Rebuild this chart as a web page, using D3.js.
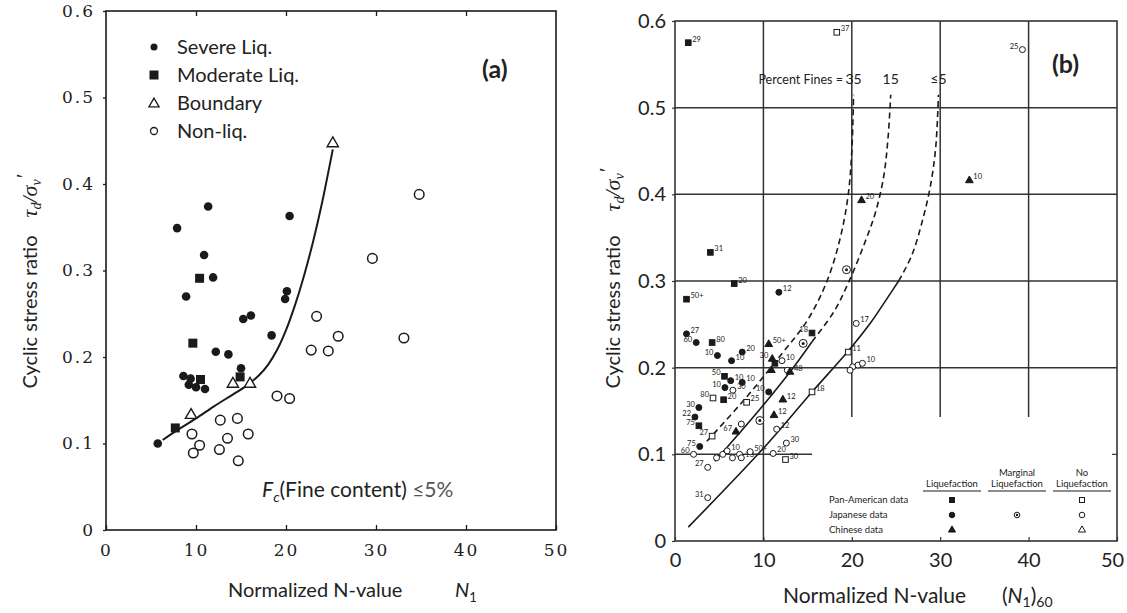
<!DOCTYPE html>
<html>
<head>
<meta charset="utf-8">
<script src="https://cdn.jsdelivr.net/npm/d3@7"></script>
<style>
body { margin: 0; background: #fff; }
text { fill: #222; }
</style>
</head>
<body>
<svg id="svg0" width="1127" height="613"></svg>
<script>
// ---------- panel (a) data : [N1, CSR] ----------
var severeLiq = [[7.9,0.349],[11.35,0.374],[10.9,0.318],[11.9,0.292],[20.4,0.363],[8.9,0.27],
  [20.1,0.276],[19.9,0.267],[15.25,0.244],[16.1,0.248],[18.4,0.225],[12.2,0.206],[13.6,0.203],
  [15,0.187],[8.6,0.178],[9.4,0.175],[9.2,0.168],[10,0.165],[11,0.163],[5.75,0.1]];
var moderateLiq = [[10.4,0.291],[9.65,0.216],[14.9,0.177],[10.5,0.174],[7.7,0.118]];
var boundary = [[9.45,0.134],[14.1,0.17],[16,0.17],[25.2,0.448]];
var nonLiq = [[9.55,0.111],[10.4,0.098],[9.7,0.089],[12.7,0.127],[14.6,0.129],[13.5,0.106],
  [12.6,0.093],[15.8,0.111],[14.7,0.08],[19.0,0.155],[20.4,0.152],[23.4,0.247],[25.8,0.224],
  [22.8,0.208],[24.7,0.207],[33.1,0.222],[34.8,0.388],[29.6,0.314]];
var curveA = [[6.3,0.104],[8,0.116],[10,0.129],[12,0.143],[14,0.156],[15.5,0.166],[17,0.179],
  [18,0.191],[19,0.208],[20,0.231],[21,0.26],[22,0.294],[23,0.333],[24,0.378],[25.2,0.44]];
var legendA = ["Severe Liq.", "Moderate Liq.", "Boundary", "Non-liq."];

// ---------- panel (b) data : [(N1)60, CSR, label, side] ----------
var panAmLiq = [[1.5,0.575,"29"],[4.0,0.333,"31"],[6.7,0.297,"20"],[1.3,0.279,"50+"],[4.2,0.229,"80"],
  [5.6,0.19,"50","L"],[5.5,0.163,"20"],[2.7,0.133,"75","L"],[11.3,0.205,""],[15.5,0.24,"18","L"]];
var panAmNo = [[18.3,0.587,"37"],[4.3,0.165,"80","L"],[8.1,0.16,"25"],[4.2,0.121,"27","L"],
  [15.5,0.172,"18"],[19.6,0.218,"11"],[12.5,0.094,"30"]];
var japLiq = [[11.75,0.287,"12"],[1.3,0.239,"27"],[2.4,0.229,"60","L"],[7.6,0.218,"20"],[4.8,0.214,"10","L"],
  [6.4,0.208,"10"],[6.3,0.185,"10"],[7.6,0.183,"10"],[5.65,0.177,"10","L"],[2.7,0.154,"30","L"],
  [2.26,0.143,"22","L"],[2.8,0.109,"75","L"],[10.6,0.172,"10","L"]];
var japMarg = [[19.4,0.313,""],[14.5,0.228,""],[9.6,0.139,""]];
var japNo = [[39.3,0.567,"25","L"],[6.55,0.174,"30"],[7.5,0.135,""],[2.1,0.10,"60","L"],[12.1,0.208,"10"],
  [12.7,0.197,""],[11.5,0.129,"12"],[12.6,0.113,"30"],[11.1,0.101,"20"],[4.7,0.096,""],[5.4,0.10,""],
  [5.9,0.104,"10"],[6.5,0.096,""],[7.3,0.10,""],[7.5,0.096,"13"],[8.5,0.103,"50+"],[3.7,0.085,"27","L"],
  [3.7,0.05,"31","L"],[20.5,0.251,"17"],[20.1,0.201,""],[20.7,0.203,""],[21.2,0.205,"10"],[19.8,0.197,""]];
var chiLiq = [[33.3,0.416,"10"],[21.1,0.393,"20"],[10.6,0.227,"50+"],[10.9,0.197,""],[11.0,0.21,"30","L"],
  [12.2,0.163,"12"],[11.2,0.145,"12"],[6.9,0.126,"67","L"],[13.0,0.195,"48"]];
var curve35 = [[3.6,0.115],[8,0.165],[12,0.215],[15,0.255],[17.2,0.30],[18.7,0.35],[19.6,0.40],
  [20.0,0.45],[20.2,0.515]];
var curve15Solid = [[4.5,0.092],[9.6,0.152],[13,0.195],[15.5,0.23]];
var curve15Dash = [[15.5,0.23],[18,0.265],[19.7,0.30],[21.5,0.345],[22.7,0.38],[23.6,0.42],[24.1,0.465],[24.4,0.515]];
var curve5Solid = [[1.5,0.016],[10,0.107],[15.5,0.172],[19.5,0.218],[22,0.25],[24,0.28],[25.3,0.30]];
var curve5Dash = [[25.3,0.30],[26.8,0.33],[28,0.37],[28.9,0.41],[29.5,0.455],[29.8,0.515]];
var finesLabels = [["35",20.2],["15",24.4],["\u22645",29.8]];
var legendRows = ["Pan-American data", "Japanese data", "Chinese data"];

var xTicks = [0,10,20,30,40,50];
var yTicks = [0,0.1,0.2,0.3,0.4,0.5,0.6];

var svg = d3.select('#svg0');
var ink = "#1a1a1a";

// ================= panel (a) =================
var xa = d3.scaleLinear().domain([0,50]).range([106,556]);
var ya = d3.scaleLinear().domain([0,0.6]).range([530,11]);
var ga = svg.append('g');

ga.append('rect').attr('x', xa(0)).attr('y', ya(0.6))
  .attr('width', xa(50)-xa(0)).attr('height', ya(0)-ya(0.6))
  .attr('fill','none').attr('stroke', ink).attr('stroke-width',1.6);

ga.append('g').attr('transform','translate(0,'+ya(0)+')')
  .call(d3.axisBottom(xa).tickValues(xTicks).tickSizeInner(-5).tickSizeOuter(0).tickPadding(14))
  .call(function(g){ g.select('.domain').remove(); });
ga.append('g').attr('transform','translate(0,'+ya(0.6)+')')
  .call(d3.axisTop(xa).tickValues(xTicks.slice(1,5)).tickSizeInner(-5).tickFormat(''))
  .call(function(g){ g.select('.domain').remove(); });
ga.append('g').attr('transform','translate('+xa(0)+',0)')
  .call(d3.axisLeft(ya).tickValues(yTicks).tickSizeInner(3).tickPadding(8)
    .tickFormat(function(d){ return d === 0 ? "0" : d3.format(".1f")(d); }))
  .call(function(g){ g.select('.domain').remove(); });
ga.selectAll('.tick line').attr('stroke', ink).attr('stroke-width',1.3);
ga.selectAll('.tick text').attr('font-family','"DejaVu Serif", serif').attr('font-size',17)
  .attr('letter-spacing','2px').attr('fill', ink);

var lineA = d3.line().x(function(d){return xa(d[0]);}).y(function(d){return ya(d[1]);})
  .curve(d3.curveCatmullRom.alpha(0.5));
ga.append('path').datum(curveA).attr('d', lineA).attr('fill','none')
  .attr('stroke', ink).attr('stroke-width',2);

ga.selectAll('.sev').data(severeLiq).enter().append('circle')
  .attr('cx', function(d){return xa(d[0]);}).attr('cy', function(d){return ya(d[1]);})
  .attr('r',4.3).attr('fill', ink);
ga.selectAll('.mod').data(moderateLiq).enter().append('rect')
  .attr('x', function(d){return xa(d[0])-4.5;}).attr('y', function(d){return ya(d[1])-4.5;})
  .attr('width',9).attr('height',9).attr('fill', ink);
var triA = d3.symbol().type(d3.symbolTriangle).size(55);
ga.selectAll('.bnd').data(boundary).enter().append('path')
  .attr('d', triA).attr('transform', function(d){return 'translate('+xa(d[0])+','+(ya(d[1])+1)+')';})
  .attr('fill','#fff').attr('stroke', ink).attr('stroke-width',1.4);
ga.selectAll('.non').data(nonLiq).enter().append('circle')
  .attr('cx', function(d){return xa(d[0]);}).attr('cy', function(d){return ya(d[1]);})
  .attr('r',4.8).attr('fill','#fff').attr('stroke', ink).attr('stroke-width',1.5);

// legend (a)
var lgA = ga.append('g');
legendA.forEach(function(t,i){
  var y = 47 + i*28;
  if (i === 0) lgA.append('circle').attr('cx',154).attr('cy',y).attr('r',3.5).attr('fill',ink);
  if (i === 1) lgA.append('rect').attr('x',149.5).attr('y',y-4.5).attr('width',9).attr('height',9).attr('fill',ink);
  if (i === 2) lgA.append('path').attr('d', d3.symbol().type(d3.symbolTriangle).size(45))
      .attr('transform','translate(154,'+(y+1)+')').attr('fill','#fff').attr('stroke',ink).attr('stroke-width',1.3);
  if (i === 3) lgA.append('circle').attr('cx',154).attr('cy',y).attr('r',3.5).attr('fill','#fff').attr('stroke',ink).attr('stroke-width',1.3);
  lgA.append('text').attr('x',177).attr('y',y+7).attr('font-family','Lato, sans-serif')
    .attr('font-size',20).text(t);
});
ga.append('text').attr('x',482).attr('y',78).attr('font-family','Lato, sans-serif')
  .attr('font-size',25).attr('font-weight','bold').text('(a)');

var fc = ga.append('text').attr('x',262).attr('y',497).attr('font-family','Lato, sans-serif').attr('font-size',21);
fc.append('tspan').attr('font-style','italic').text('F');
fc.append('tspan').attr('font-style','italic').attr('font-size',14).attr('dy',5).text('c');
fc.append('tspan').attr('dy',-5).text('(Fine content)  ');
fc.append('tspan').attr('fill','#555').text('\u22645%');

// axis titles (a)
ga.append('text').attr('transform','translate(37,312) rotate(-90)')
  .attr('text-anchor','middle').attr('font-family','Lato, sans-serif').attr('font-size',20)
  .text('Cyclic stress ratio');
var tauA = ga.append('text').attr('transform','translate(37,196) rotate(-90)')
  .attr('text-anchor','middle').attr('font-family','"Liberation Serif", serif').attr('font-size',22).attr('font-style','italic');
tauA.append('tspan').text('\u03c4');
tauA.append('tspan').attr('font-size',14).attr('dy',4).text('d');
tauA.append('tspan').attr('dy',-4).text('/\u03c3');
tauA.append('tspan').attr('font-size',14).attr('dy',4).text('v');
tauA.append('tspan').attr('dy',-10).text('\u2032');
ga.append('text').attr('x',228).attr('y',597).attr('font-family','Lato, sans-serif').attr('font-size',20)
  .text('Normalized N-value');
var n1 = ga.append('text').attr('x',455).attr('y',597).attr('font-family','Lato, sans-serif').attr('font-size',20);
n1.append('tspan').attr('font-style','italic').text('N');
n1.append('tspan').attr('font-size',13).attr('dy',5).text('1');

// ================= panel (b) =================
var xb = d3.scaleLinear().domain([0,50]).range([675,1117]);
var yb = d3.scaleLinear().domain([0,0.6]).range([541,21]);
var gb = svg.append('g');
var grid = "#333";

gb.append('rect').attr('x', xb(0)).attr('y', yb(0.6))
  .attr('width', xb(50)-xb(0)).attr('height', yb(0)-yb(0.6))
  .attr('fill','none').attr('stroke', grid).attr('stroke-width',1.6);
// horizontal grid
[0.2,0.3,0.4,0.5].forEach(function(v){
  gb.append('line').attr('x1',xb(0)).attr('x2',xb(50)).attr('y1',yb(v)).attr('y2',yb(v))
    .attr('stroke',grid).attr('stroke-width',1.5);
});
gb.append('line').attr('x1',xb(0)).attr('x2',xb(15.5)).attr('y1',yb(0.1)).attr('y2',yb(0.1))
  .attr('stroke',grid).attr('stroke-width',1.5);
gb.append('line').attr('x1',xb(50)-5).attr('x2',xb(50)).attr('y1',yb(0.1)).attr('y2',yb(0.1))
  .attr('stroke',grid).attr('stroke-width',1.2);
// vertical grid
gb.append('line').attr('x1',xb(10)).attr('x2',xb(10)).attr('y1',yb(0)).attr('y2',yb(0.6))
  .attr('stroke',grid).attr('stroke-width',1.5);
[20,30,40].forEach(function(v){
  gb.append('line').attr('x1',xb(v)).attr('x2',xb(v)).attr('y1',yb(0.143)).attr('y2',yb(0.6))
    .attr('stroke',grid).attr('stroke-width',1.5);
});

gb.append('g').attr('transform','translate(0,'+yb(0)+')')
  .call(d3.axisBottom(xb).tickValues(xTicks).tickSizeInner(-4).tickSizeOuter(0).tickPadding(12))
  .call(function(g){ g.select('.domain').remove(); });
gb.append('g').attr('transform','translate('+xb(0)+',0)')
  .call(d3.axisLeft(yb).tickValues(yTicks).tickSizeInner(3).tickPadding(6)
    .tickFormat(function(d){ return d === 0 ? "0" : d3.format(".1f")(d); }))
  .call(function(g){ g.select('.domain').remove(); });
gb.selectAll('.tick line').attr('stroke', grid).attr('stroke-width',1.2);
gb.selectAll('.tick text').attr('font-family','Lato, sans-serif').attr('font-size',20).attr('fill','#333');
gb.selectAll('.tick text').filter(function(d){ return d === 50; }).attr('dx',-5);

var lineB = d3.line().x(function(d){return xb(d[0]);}).y(function(d){return yb(d[1]);})
  .curve(d3.curveCatmullRom.alpha(0.5));
function drawCurve(data, dashed){
  gb.append('path').datum(data).attr('d', lineB).attr('fill','none')
    .attr('stroke', ink).attr('stroke-width',1.6)
    .attr('stroke-dasharray', dashed ? '6,4' : null);
}
drawCurve(curve35, true);
drawCurve(curve15Solid, false);
drawCurve(curve15Dash, true);
drawCurve(curve5Solid, false);
drawCurve(curve5Dash, true);

gb.append('text').attr('x',xb(19.0)).attr('y',yb(0.527)).attr('text-anchor','end')
  .attr('font-family','Lato, sans-serif').attr('font-size',12.5).text('Percent Fines =');
gb.selectAll('.fl').data(finesLabels).enter().append('text')
  .attr('x', function(d){return xb(d[1]);}).attr('y', yb(0.527)).attr('text-anchor','middle')
  .attr('font-family','Lato, sans-serif').attr('font-size',14).text(function(d){return d[0];});

// markers (b)
function px(d){ return xb(d[0]); }
function py(d){ return yb(d[1]); }
function marks(data, kind){
  var g = gb.append('g');
  var sel = g.selectAll('g').data(data).enter().append('g')
    .attr('transform', function(d){ return 'translate('+px(d)+','+py(d)+')'; });
  if (kind === 'sqF' || kind === 'sqO')
    sel.append('rect').attr('x',-2.8).attr('y',-2.8).attr('width',5.6).attr('height',5.6)
      .attr('fill', kind === 'sqF' ? ink : '#fff').attr('stroke', ink).attr('stroke-width',1);
  if (kind === 'ciF' || kind === 'ciO' || kind === 'ciM')
    sel.append('circle').attr('r', kind === 'ciM' ? 4 : 3)
      .attr('fill', kind === 'ciF' ? ink : '#fff').attr('stroke', ink).attr('stroke-width',1);
  if (kind === 'ciM')
    sel.append('circle').attr('r',1.5).attr('fill', ink);
  if (kind === 'trF' || kind === 'trO')
    sel.append('path').attr('d', d3.symbol().type(d3.symbolTriangle).size(26))
      .attr('fill', kind === 'trF' ? ink : '#fff').attr('stroke', ink).attr('stroke-width',1);
  sel.append('text')
    .attr('x', function(d){ return d[3] === 'L' ? -4 : 4; })
    .attr('y', -1)
    .attr('text-anchor', function(d){ return d[3] === 'L' ? 'end' : 'start'; })
    .attr('font-family','Lato, sans-serif').attr('font-size',7.5)
    .text(function(d){ return d[2]; });
}
marks(panAmLiq,'sqF');
marks(panAmNo,'sqO');
marks(japLiq,'ciF');
marks(japMarg,'ciM');
marks(japNo,'ciO');
marks(chiLiq,'trF');

// legend table (b)
var lg = gb.append('g').attr('font-family','Lato, sans-serif').attr('font-size',9.5);
var colX = [952,1017,1082];
lg.append('text').attr('x',colX[0]).attr('y',487).attr('text-anchor','middle').text('Liquefaction');
lg.append('text').attr('x',colX[1]).attr('y',476).attr('text-anchor','middle').text('Marginal');
lg.append('text').attr('x',colX[1]).attr('y',487).attr('text-anchor','middle').text('Liquefaction');
lg.append('text').attr('x',colX[2]).attr('y',476).attr('text-anchor','middle').text('No');
lg.append('text').attr('x',colX[2]).attr('y',487).attr('text-anchor','middle').text('Liquefaction');
colX.forEach(function(cx){
  lg.append('line').attr('x1',cx-29).attr('x2',cx+29).attr('y1',491).attr('y2',491).attr('stroke',ink).attr('stroke-width',1);
});
legendRows.forEach(function(t,i){
  lg.append('text').attr('x',829).attr('y',503+i*15).text(t);
});
var lgm = [
  [colX[0],500,'sqF'],[colX[2],500,'sqO'],
  [colX[0],515,'ciF'],[colX[1],515,'ciM'],[colX[2],515,'ciO'],
  [colX[0],530,'trF'],[colX[2],530,'trO']
];
lgm.forEach(function(m){
  var g = lg.append('g').attr('transform','translate('+m[0]+','+m[1]+')');
  var k = m[2];
  if (k[0]==='s') g.append('rect').attr('x',-2.5).attr('y',-2.5).attr('width',5).attr('height',5)
      .attr('fill', k==='sqF'?ink:'#fff').attr('stroke',ink).attr('stroke-width',1);
  if (k[0]==='c') g.append('circle').attr('r', 2.8).attr('fill', k==='ciF'?ink:'#fff').attr('stroke',ink).attr('stroke-width',1);
  if (k==='ciM') g.append('circle').attr('r',1.2).attr('fill',ink);
  if (k[0]==='t') g.append('path').attr('d', d3.symbol().type(d3.symbolTriangle).size(22))
      .attr('fill', k==='trF'?ink:'#fff').attr('stroke',ink).attr('stroke-width',1);
});

gb.append('text').attr('x',1052).attr('y',73).attr('font-family','Lato, sans-serif')
  .attr('font-size',25).attr('font-weight','bold').text('(b)');

// axis titles (b)
gb.append('text').attr('transform','translate(620,312) rotate(-90)')
  .attr('text-anchor','middle').attr('font-family','Lato, sans-serif').attr('font-size',20)
  .text('Cyclic stress ratio');
var tauB = gb.append('text').attr('transform','translate(620,190) rotate(-90)')
  .attr('text-anchor','middle').attr('font-family','"Liberation Serif", serif').attr('font-size',22).attr('font-style','italic');
tauB.append('tspan').text('\u03c4');
tauB.append('tspan').attr('font-size',14).attr('dy',4).text('d');
tauB.append('tspan').attr('dy',-4).text('/\u03c3');
tauB.append('tspan').attr('font-size',14).attr('dy',4).text('v');
tauB.append('tspan').attr('dy',-10).text('\u2032');
gb.append('text').attr('x',783).attr('y',603).attr('font-family','Lato, sans-serif').attr('font-size',21)
  .text('Normalized N-value');
var n60 = gb.append('text').attr('x',1002).attr('y',603).attr('font-family','Lato, sans-serif').attr('font-size',21);
n60.append('tspan').text('(');
n60.append('tspan').attr('font-style','italic').text('N');
n60.append('tspan').attr('font-size',14).attr('dy',4).text('1');
n60.append('tspan').attr('dy',-4).text(')');
n60.append('tspan').attr('font-size',14).attr('dy',4).text('60');
</script>
</body>
</html>
